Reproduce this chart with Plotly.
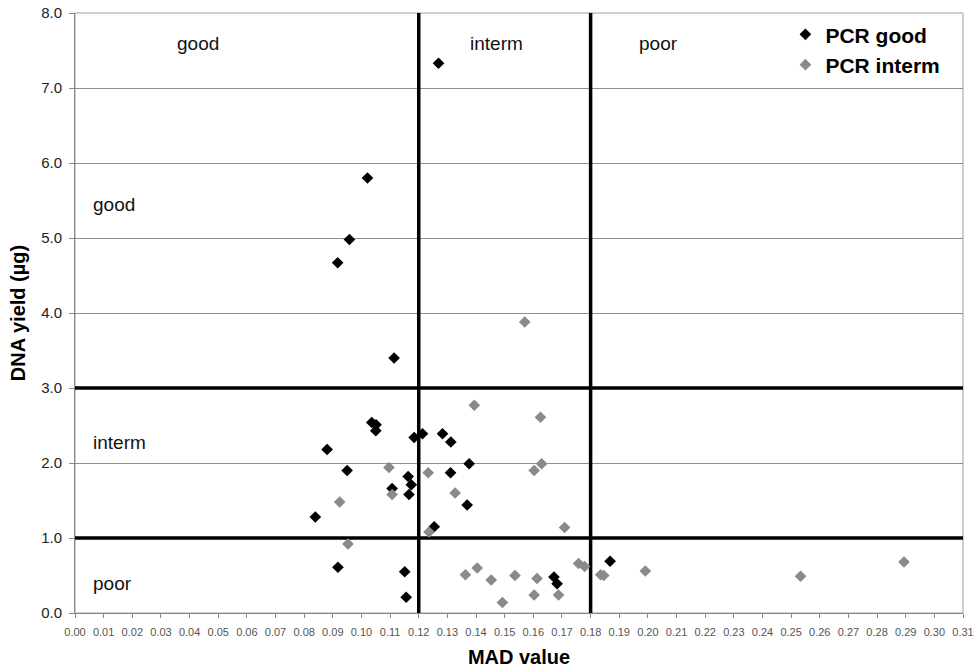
import plotly.graph_objects as go

# PCR good (black)
good_mad = [0.0839, 0.0880, 0.0917, 0.0918, 0.0950, 0.0958, 0.1021, 0.1036, 0.1051, 0.1050,
            0.1107, 0.1114, 0.1151, 0.1156, 0.1163, 0.1166, 0.1174, 0.1184, 0.1213, 0.1254,
            0.1269, 0.1283, 0.1311, 0.1312, 0.1369, 0.1376, 0.1672, 0.1683, 0.1868]
good_yield = [1.28, 2.18, 4.67, 0.61, 1.90, 4.98, 5.80, 2.54, 2.51, 2.43,
              1.66, 3.40, 0.55, 0.21, 1.82, 1.58, 1.71, 2.34, 2.39, 1.15,
              7.33, 2.39, 1.87, 2.28, 1.44, 1.99, 0.48, 0.39, 0.69]

# PCR interm (grey)
interm_mad = [0.0924, 0.0953, 0.1096, 0.1107, 0.1233, 0.1236, 0.1327, 0.1363, 0.1394, 0.1404,
              0.1453, 0.1492, 0.1536, 0.1570, 0.1603, 0.1603, 0.1613, 0.1625, 0.1629, 0.1688,
              0.1709, 0.1758, 0.1779, 0.1835, 0.1846, 0.1991, 0.2533, 0.2894]
interm_yield = [1.48, 0.92, 1.94, 1.58, 1.87, 1.08, 1.60, 0.51, 2.77, 0.60,
                0.44, 0.14, 0.50, 3.88, 1.90, 0.24, 0.46, 2.61, 1.99, 0.24,
                1.14, 0.66, 0.62, 0.51, 0.50, 0.56, 0.49, 0.68]

mad_thresholds = [0.12, 0.18]
yield_thresholds = [1.0, 3.0]

x_ticks = [i / 100 for i in range(0, 32)]
x_tick_labels = [f"{v:.2f}" for v in x_ticks]
y_ticks = [float(i) for i in range(0, 9)]
y_tick_labels = [f"{v:.1f}" for v in y_ticks]

top_labels = ["good", "interm", "poor"]
top_label_x = [0.043, 0.147, 0.2036]
side_labels = ["good", "interm", "poor"]
side_label_y = [5.45, 2.27, 0.40]

FONT = "Liberation Sans, Arial, sans-serif"

fig = go.Figure()
fig.add_trace(go.Scatter(
    x=good_mad, y=good_yield, mode="markers", name="PCR good",
    marker=dict(symbol="diamond", size=9, color="#000000", line=dict(width=0)),
))
fig.add_trace(go.Scatter(
    x=interm_mad, y=interm_yield, mode="markers", name="PCR interm",
    marker=dict(symbol="diamond", size=9, color="#8a8a8a", line=dict(width=0)),
))

shapes = []
for xv in mad_thresholds:
    shapes.append(dict(type="line", xref="x", yref="y", x0=xv, x1=xv, y0=0, y1=8,
                       line=dict(color="black", width=3.5), layer="between"))
for yv in yield_thresholds:
    shapes.append(dict(type="line", xref="x", yref="y", x0=0, x1=0.31, y0=yv, y1=yv,
                       line=dict(color="black", width=3.5), layer="between"))
# plot border
shapes.append(dict(type="rect", xref="paper", yref="paper", x0=0, x1=1, y0=0, y1=1,
                   line=dict(color="#a0a0a0", width=1), layer="below"))

annotations = []
for t, xv in zip(top_labels, top_label_x):
    annotations.append(dict(x=xv, y=7.6, xref="x", yref="y", text=t, showarrow=False,
                            font=dict(family=FONT, size=19, color="#111")))
for t, yv in zip(side_labels, side_label_y):
    annotations.append(dict(x=0.0055, y=yv, xref="x", yref="y", text=t, showarrow=False,
                            xanchor="left", font=dict(family=FONT, size=19, color="#111")))

fig.update_layout(
    width=974, height=671,
    margin=dict(l=75, r=11, t=13, b=58, autoexpand=False),
    paper_bgcolor="white", plot_bgcolor="white",
    font=dict(family=FONT),
    shapes=shapes, annotations=annotations,
    showlegend=True,
    legend=dict(x=0.80, y=0.998, xanchor="left", yanchor="top",
                font=dict(family=FONT, size=21, color="black", weight="bold"),
                bgcolor="rgba(255,255,255,0)", itemsizing="trace",
                tracegroupgap=0, itemwidth=30),
    xaxis=dict(range=[0, 0.31], tickvals=x_ticks, ticktext=x_tick_labels,
               automargin=False,
               showgrid=False, zeroline=False,
               showline=True, linecolor="#888", linewidth=1,
               ticks="outside", ticklen=4, tickcolor="#888", ticklabelstandoff=5,
               tickfont=dict(family=FONT, size=11, color="#555"),
               title=dict(text="MAD value", standoff=12,
                          font=dict(family=FONT, size=20, color="black", weight="bold"))),
    yaxis=dict(range=[0, 8], tickvals=y_ticks, ticktext=y_tick_labels,
               automargin=False,
               showgrid=True, gridcolor="#909090", gridwidth=1.3, zeroline=False,
               showline=True, linecolor="#888", linewidth=1,
               ticks="outside", ticklen=5, tickcolor="#888", ticklabelstandoff=4,
               tickfont=dict(family=FONT, size=15, color="#222"),
               title=dict(text="DNA yield (µg)", standoff=10,
                          font=dict(family=FONT, size=20, color="black", weight="bold"))),
)

fig.write_html("out.html", config={"displayModeBar": False},
               post_script="document.body.style.margin='0px';document.body.style.overflow='hidden';")
